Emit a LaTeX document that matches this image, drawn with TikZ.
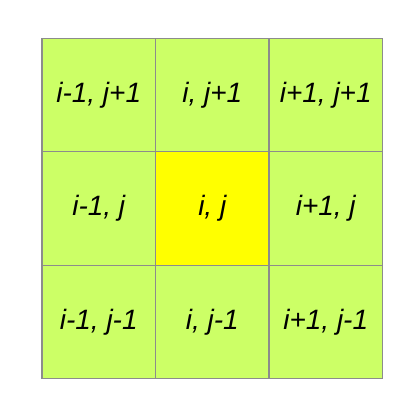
\documentclass[tikz,border=0pt]{standalone}
\usepackage{fontspec}
\setmainfont{Liberation Sans}
\definecolor{cellgreen}{RGB}{204,255,102}
\definecolor{cellyellow}{RGB}{255,255,0}
\definecolor{gridgray}{RGB}{140,140,140}
\begin{document}
\begin{tikzpicture}[x=1pt,y=-1pt,
  cell/.style={draw=gridgray,line width=1.4pt,fill=cellgreen,minimum width=113.5pt,minimum height=113.5pt,inner sep=0pt,font=\fontsize{28}{32}\selectfont\itshape},
  center/.style={cell,fill=cellyellow}]
\useasboundingbox (0,0) rectangle (420,420);
\fill[white] (0,0) rectangle (420,420);
\node[cell] (a) at (98.75,95) {i-1, j+1};
\node[cell] (b) at (212.25,95) {i, j+1};
\node[cell] (c) at (325.75,95) {i+1, j+1};
\node[cell] (d) at (98.75,208.5) {i-1, j};
\node[center] (e) at (212.25,208.5) {i, j};
\node[cell] (f) at (325.75,208.5) {i+1, j};
\node[cell] (g) at (98.75,322) {i-1, j-1};
\node[cell] (h) at (212.25,322) {i, j-1};
\node[cell] (k) at (325.75,322) {i+1, j-1};
\end{tikzpicture}
\end{document}
